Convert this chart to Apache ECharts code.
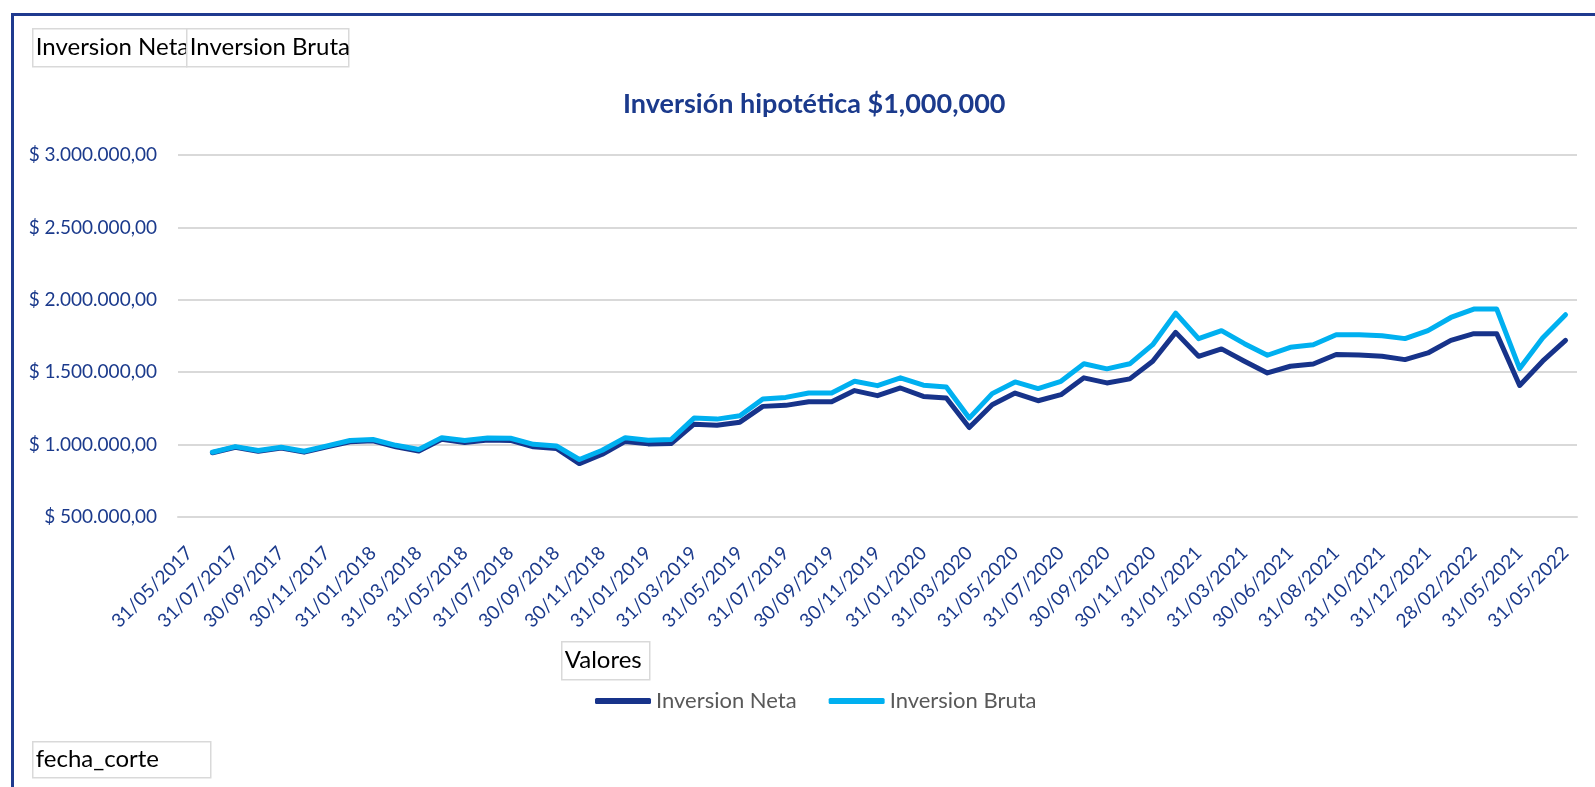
<!DOCTYPE html>
<html>
<head>
<meta charset="utf-8">
<script src="https://cdn.jsdelivr.net/npm/echarts@6/dist/echarts.min.js"></script>
<style>
  html, body { margin: 0; padding: 0; background: #fff; }
  #chart { width: 1595px; height: 787px; }
</style>
</head>
<body>
<div id="chart"></div>
<script>
// fechas de corte (eje x)
const categories = [
  '31/05/2017', '30/06/2017', '31/07/2017', '31/08/2017', '30/09/2017', '31/10/2017',
  '30/11/2017', '31/12/2017', '31/01/2018', '28/02/2018', '31/03/2018', '30/04/2018',
  '31/05/2018', '30/06/2018', '31/07/2018', '31/08/2018', '30/09/2018', '31/10/2018',
  '30/11/2018', '31/12/2018', '31/01/2019', '28/02/2019', '31/03/2019', '30/04/2019',
  '31/05/2019', '30/06/2019', '31/07/2019', '31/08/2019', '30/09/2019', '31/10/2019',
  '30/11/2019', '31/12/2019', '31/01/2020', '29/02/2020', '31/03/2020', '30/04/2020',
  '31/05/2020', '30/06/2020', '31/07/2020', '31/08/2020', '30/09/2020', '31/10/2020',
  '30/11/2020', '31/12/2020', '31/01/2021', '28/02/2021', '31/03/2021', '30/04/2021',
  '30/06/2021', '31/07/2021', '31/08/2021', '30/09/2021', '31/10/2021', '30/11/2021',
  '31/12/2021', '31/01/2022', '28/02/2022', '31/03/2022', '31/05/2021', '30/04/2022',
  '31/05/2022'
];

const inversionNeta = [
  null, 944000, 982000, 954000, 977000, 948000, 984000, 1020000, 1026000, 985000,
  955000, 1036000, 1015000, 1032000, 1029000, 985000, 973000, 869000, 933000, 1022000,
  1005000, 1007000, 1141000, 1134000, 1155000, 1264000, 1271000, 1296000, 1296000, 1373000,
  1338000, 1391000, 1333000, 1322000, 1118000, 1275000, 1356000, 1303000, 1345000, 1461000,
  1426000, 1454000, 1576000, 1775000, 1610000, 1661000, 1576000, 1495000, 1541000, 1557000,
  1622000, 1619000, 1610000, 1587000, 1633000, 1720000, 1766000, 1766000, 1408000, 1576000,
  1720000
];

const inversionBruta = [
  null, 947000, 986000, 959000, 982000, 954000, 991000, 1028000, 1035000, 995000,
  966000, 1048000, 1028000, 1046000, 1044000, 1002000, 991000, 897000, 961000, 1048000,
  1030000, 1035000, 1183000, 1176000, 1199000, 1315000, 1326000, 1356000, 1356000, 1437000,
  1407000, 1461000, 1410000, 1398000, 1183000, 1352000, 1433000, 1387000, 1437000, 1558000,
  1523000, 1558000, 1690000, 1908000, 1732000, 1787000, 1697000, 1617000, 1672000, 1690000,
  1759000, 1759000, 1752000, 1732000, 1787000, 1878000, 1936000, 1936000, 1525000, 1736000,
  1897000
];

const yMin = 500000;
const yMax = 3000000;
const yStep = 500000;

const azul = '#1b3a8c';
const navy = '#17338a';
const celeste = '#00b0f0';
const fuente = 'Lato, "Noto Sans", sans-serif';

// $ 1.500.000,00
const moneda = (v) => '$ ' + String(v).replace(/\B(?=(\d{3})+(?!\d))/g, '.') + ',00';

const boton = (x, y, w, h, texto) => ({
  type: 'group',
  left: x,
  top: y,
  children: [
    { type: 'rect', shape: { x: 0, y: 0, width: w, height: h },
      style: { fill: '#fff', stroke: '#d9d9d9', lineWidth: 1.5 } },
    { type: 'text', x: 3, y: h / 2,
      style: { text: texto, fill: '#000', font: '24px ' + fuente, verticalAlign: 'middle' } }
  ]
});

const chart = echarts.init(document.getElementById('chart'));
chart.setOption({
  backgroundColor: '#fff',
  animation: false,
  title: {
    text: 'Inversión hipotética $1,000,000',
    left: 618,
    top: 86,
    textStyle: { color: azul, fontFamily: fuente, fontWeight: 'bold', fontSize: 27 }
  },
  legend: {
    left: 595,
    top: 690,
    padding: 0,
    itemWidth: 56,
    itemHeight: 6,
    itemGap: 32,
    icon: 'roundRect',
    textStyle: { color: '#595959', fontFamily: fuente, fontSize: 22 },
    data: ['Inversion Neta', 'Inversion Bruta']
  },
  grid: { left: 178, right: 18, top: 155, bottom: 270, containLabel: false },
  xAxis: {
    type: 'category',
    data: categories,
    boundaryGap: true,
    axisTick: { show: false },
    axisLine: { lineStyle: { color: '#d9d9d9', width: 2 } },
    axisLabel: {
      interval: 1,
      rotate: 45,
      margin: 33,
      color: azul,
      fontFamily: fuente,
      fontSize: 19
    }
  },
  yAxis: {
    type: 'value',
    min: yMin,
    max: yMax,
    interval: yStep,
    axisLine: { show: false },
    axisTick: { show: false },
    splitLine: { lineStyle: { color: '#d9d9d9', width: 2 } },
    axisLabel: {
      formatter: moneda,
      margin: 21,
      color: azul,
      fontFamily: fuente,
      fontSize: 19
    }
  },
  series: [
    {
      name: 'Inversion Neta',
      type: 'line',
      data: inversionNeta,
      symbol: 'none',
      itemStyle: { color: navy },
      lineStyle: { color: navy, width: 5, cap: 'round', join: 'round' }
    },
    {
      name: 'Inversion Bruta',
      type: 'line',
      data: inversionBruta,
      symbol: 'none',
      itemStyle: { color: celeste },
      lineStyle: { color: celeste, width: 5, cap: 'round', join: 'round' }
    }
  ],
  graphic: [
    // marco azul
    { type: 'rect', left: 10, top: 12, silent: true,
      shape: { x: 0, y: 0, width: 1640, height: 820 },
      style: { fill: 'none', stroke: '#1f3a8f', lineWidth: 3 } },
    boton(32, 28, 154, 38, 'Inversion Neta'),
    boton(186, 28, 162, 38, 'Inversion Bruta'),
    boton(561, 641, 88, 38, 'Valores'),
    boton(32, 741, 178, 36, 'fecha_corte')
  ]
});
</script>
</body>
</html>
